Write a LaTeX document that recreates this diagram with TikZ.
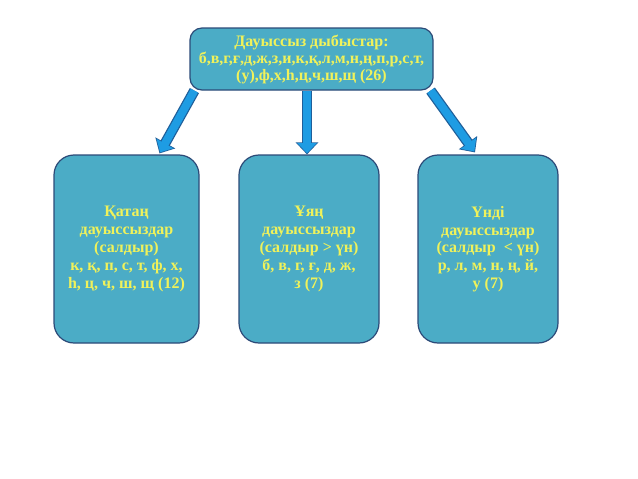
\documentclass[tikz,border=0pt]{standalone}
\usepackage{fontspec}
\setmainfont{Liberation Serif}
\usetikzlibrary{arrows.meta,calc}
\definecolor{boxfill}{HTML}{4BACC6}
\definecolor{boxline}{HTML}{2C4A78}
\definecolor{txtc}{HTML}{F0F25A}
\definecolor{arrowc}{HTML}{1E9CE3}
\definecolor{arrowline}{HTML}{1F5F9A}
\begin{document}
\begin{tikzpicture}[x=1pt,y=-1pt,
  box/.style={draw=boxline, line width=1.2pt, fill=boxfill, rounded corners=20pt,
    text=txtc, font=\bfseries\fontsize{16}{17.8}\selectfont, align=center,
    inner sep=0pt, minimum height=188pt},
  topbox/.style={box, rounded corners=12pt, minimum width=243pt, minimum height=62pt,
    font=\bfseries\fontsize{16}{17}\selectfont},
  connout/.style={draw=arrowline, line width=10.5pt, -{Triangle[length=12pt,width=22pt]}},
  conn/.style={draw=arrowc, line width=8pt, shorten >=1.2pt, -{Triangle[length=10pt,width=18.5pt]}}]
\useasboundingbox (0,0) rectangle (638,479);
\fill[white] (0,0) rectangle (638,479);
\node[topbox] (top) at (311.5,59) {Дауыссыз дыбыстар:\\б,в,г,ғ,д,ж,з,и,к,қ,л,м,н,ң,п,р,с,т,\\(у),ф,х,һ,ц,ч,ш,щ (26)};
\node[box, minimum width=145pt] (left) at (126.5,249) {Қатаң\\дауыссыздар\\(салдыр)\\к, қ, п, с, т, ф, х,\\һ, ц, ч, ш, щ (12)};
\node[box, minimum width=140pt] (mid) at (309,249) {Ұяң\\дауыссыздар\\(салдыр > үн)\\б, в, г, ғ, д, ж,\\з (7)};
\node[box, minimum width=140pt] (right) at (488,249) {Үнді\\дауыссыздар\\(салдыр \ < үн)\\р, л, м, н, ң, й,\\у (7)};
\coordinate (la) at ($(top.south west)+(5,0)$);
\coordinate (lb) at ($(left.north)+(33,-1)$);
\coordinate (ma) at ($(top.south)+(-4.5,0)$);
\coordinate (mb) at ($(mid.north)+(-2,0)$);
\coordinate (ra) at ($(top.south east)+(-3,0)$);
\coordinate (rb) at ($(right.north)+(-13,-2)$);
\foreach \s/\e in {la/lb, ma/mb, ra/rb} {
  \draw[connout] (\s) -- (\e);
  \draw[conn] (\s) -- (\e);
}
\end{tikzpicture}
\end{document}
